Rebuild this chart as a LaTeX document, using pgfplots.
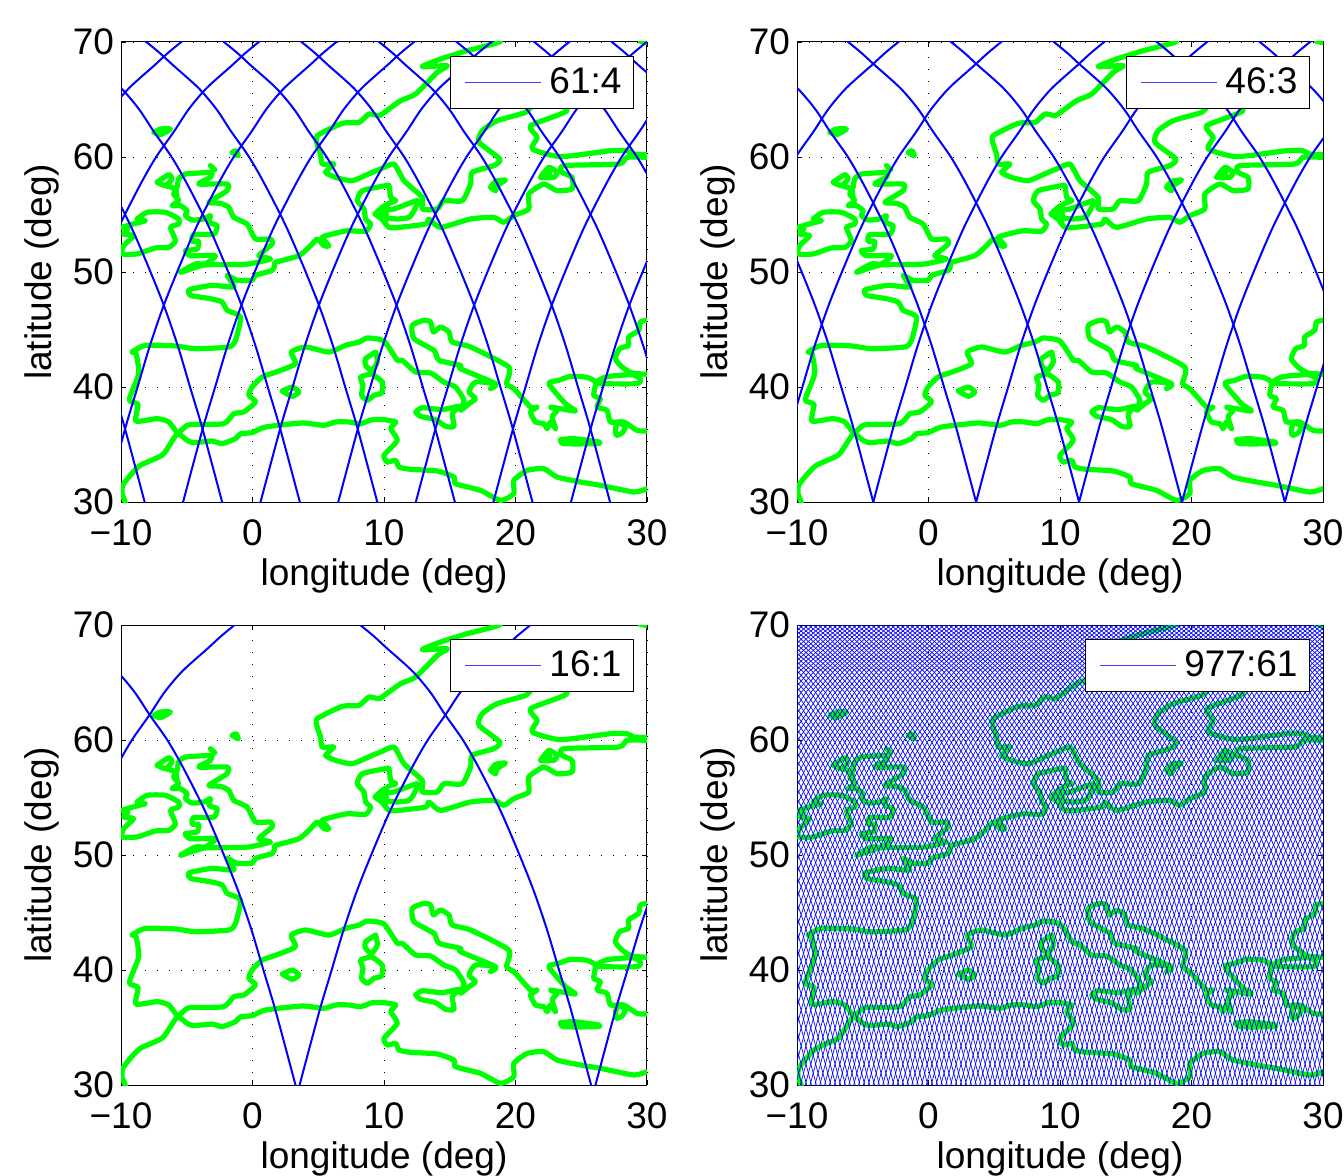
\documentclass[border=0pt]{standalone}
\usepackage{pgfplots}
\usepackage{pgfplotstable}
\usepackage{fontspec}
\setmainfont{Liberation Sans}
\pgfplotsset{compat=1.18}
\definecolor{coast}{rgb}{0,1,0}
\pgfplotstableread{
lon lat
-3.07 58.67
-5.10 58.52
-5.61 58.09
-5.74 57.36
-5.99 56.78
-5.61 56.20
-6.12 55.77
-5.48 55.77
-4.97 55.33
-5.10 54.90
-4.59 54.52
-3.71 54.61
-3.20 54.90
-3.32 54.32
-2.69 54.03
-2.94 53.30
-4.47 53.25
-4.59 52.67
-4.09 52.67
-4.21 52.00
-5.10 51.86
-4.72 51.42
-2.82 51.42
-3.58 50.70
-4.34 50.70
-5.48 49.97
-3.71 50.60
-1.80 50.64
-0.28 50.70
1.37 51.13
0.48 51.42
1.50 52.43
1.37 52.87
0.23 52.87
-0.41 54.17
-1.42 54.75
-1.80 55.62
-2.44 55.97
-3.32 56.06
-1.93 57.07
-1.93 57.65
-4.09 57.65
-3.20 58.23
-3.07 58.67
nan nan
-7.26 57.80
-6.37 58.46
-6.12 58.09
-6.62 57.51
-7.26 57.80
nan nan
-6.62 57.51
-5.86 57.22
-5.74 56.49
nan nan
-8.78 54.61
-8.02 55.19
-6.62 55.19
-5.61 54.61
-5.61 54.17
-6.24 53.88
-5.86 52.72
-6.37 52.14
-7.39 52.09
-8.78 51.57
-9.92 51.57
-9.80 52.29
-9.04 53.16
-9.80 53.30
-9.47 53.74
-9.92 53.88
-8.91 54.23
-8.15 54.46
-8.78 54.61
nan nan
-7.50 62.14
-7.00 61.94
-6.24 62.43
-7.00 62.43
-7.50 62.14
nan nan
-1.55 60.40
-1.24 60.55
-1.09 60.10
-1.55 60.40
nan nan
-3.20 59.25
-2.87 58.90
nan nan
-5.69 35.94
-6.37 36.96
-7.26 37.25
-8.86 37.04
-8.71 38.49
-9.37 38.90
-8.65 41.16
-8.86 42.90
-9.16 43.04
-8.15 43.62
-5.86 43.57
-4.34 43.33
-1.80 43.48
-1.29 44.06
-0.91 46.09
-1.93 46.67
-2.31 47.39
-3.20 47.68
-4.72 47.97
-4.80 48.46
-3.07 48.84
-1.42 48.70
-1.93 49.71
-1.17 49.28
-0.03 49.28
0.23 49.71
1.50 50.14
1.68 50.58
1.75 50.84
3.53 51.42
4.42 52.29
4.92 52.87
5.43 52.29
5.81 52.29
5.30 53.01
6.07 53.30
7.21 53.59
8.60 53.54
8.98 54.17
8.60 54.61
8.48 55.48
7.97 56.20
8.35 57.07
10.13 57.51
10.38 57.51
10.51 56.49
10.89 56.20
10.25 55.91
10.00 55.19
9.87 54.61
10.38 53.88
11.14 53.88
13.16 54.17
13.42 54.61
14.30 53.88
16.58 54.61
18.35 54.75
19.11 54.32
19.87 54.90
21.01 55.48
21.01 56.78
22.15 57.65
23.16 57.07
24.30 57.22
24.30 58.23
23.54 58.67
23.67 59.25
27.85 59.39
28.48 59.97
30.13 59.97
nan nan
30.13 60.20
28.99 60.26
28.48 60.55
27.22 60.55
23.42 60.03
21.27 60.70
21.65 61.71
21.14 62.72
23.92 64.03
22.40 65.19
21.39 64.61
20.76 63.88
18.61 63.16
17.47 62.29
17.22 61.28
18.81 59.83
18.35 59.25
16.71 58.67
16.58 57.65
15.95 56.20
14.56 56.20
14.05 55.48
12.91 55.48
12.91 56.49
11.52 57.94
10.76 59.39
9.75 58.96
9.11 58.67
7.59 57.94
6.32 58.23
5.56 58.67
6.19 59.39
5.30 59.39
5.18 60.26
4.92 61.13
4.92 61.86
6.83 62.93
8.10 63.01
8.86 63.74
9.62 63.59
10.13 63.97
11.27 64.90
12.41 65.48
14.05 67.36
14.81 67.94
12.91 67.86
14.30 68.52
16.33 69.25
16.84 69.39
18.48 69.88
18.86 70.06
nan nan
29.50 70.05
30.20 69.90
nan nan
9.75 55.33
10.76 55.48
12.53 56.20
12.28 55.33
11.90 54.75
11.01 54.61
10.13 54.75
9.75 55.33
nan nan
9.31 55.04
10.08 55.77
10.13 54.46
9.31 55.04
nan nan
18.10 57.36
18.48 57.88
19.24 58.00
18.61 57.51
18.48 57.07
18.10 57.36
nan nan
21.90 58.23
22.53 59.10
23.16 58.67
22.91 58.23
21.90 58.23
22.60 58.60
nan nan
-5.69 35.94
-4.97 36.67
-4.34 36.75
-2.18 36.81
-1.42 37.68
-0.66 37.83
0.23 38.70
-0.28 39.28
-0.03 40.00
0.74 40.87
2.01 41.39
3.27 42.03
2.94 43.04
4.04 43.48
5.81 43.04
7.08 43.62
8.10 43.91
8.73 44.26
10.00 44.00
11.01 42.32
11.39 42.32
12.41 41.30
13.54 41.22
14.56 40.43
15.44 40.00
16.08 38.84
15.82 37.97
16.46 38.55
16.96 38.99
16.46 39.57
16.96 40.43
18.48 40.29
18.10 39.86
18.48 40.29
15.82 41.59
15.82 41.88
14.18 42.32
13.80 43.19
12.28 44.20
12.15 45.36
13.04 45.80
13.54 45.65
13.75 44.78
14.30 45.22
14.94 44.78
15.19 43.91
16.58 43.48
19.49 41.74
19.32 40.29
19.87 39.86
21.14 38.26
21.65 38.26
21.14 37.83
21.52 36.96
22.15 36.81
22.41 36.38
22.66 36.96
23.04 36.38
22.78 37.39
23.16 37.97
22.66 38.26
24.56 37.91
23.80 38.55
22.53 40.29
23.29 40.58
24.18 40.93
25.44 40.84
26.08 40.41
25.95 39.28
26.46 38.99
26.20 38.26
26.96 37.97
27.22 36.96
28.23 36.96
29.24 36.23
30.00 36.17
nan nan
30.00 45.80
29.49 45.65
29.37 44.93
28.60 44.35
28.60 43.62
27.92 43.33
27.59 42.46
28.10 41.74
28.86 41.22
30.10 41.10
nan nan
26.08 40.41
26.96 40.90
28.86 41.07
29.49 40.72
29.24 40.29
26.46 40.29
26.08 40.41
nan nan
23.42 35.42
24.43 35.51
26.33 35.22
26.20 35.07
23.67 35.07
23.42 35.42
nan nan
27.85 36.96
28.35 36.52
28.10 36.00
27.67 35.80
27.60 36.40
27.85 36.96
nan nan
9.37 43.04
9.49 42.17
9.06 41.45
8.60 41.88
8.60 42.46
9.37 43.04
nan nan
9.06 41.16
8.22 40.87
8.40 40.14
8.30 39.28
8.73 38.84
9.24 39.28
9.82 39.48
9.87 40.43
9.06 41.16
nan nan
2.26 39.65
3.02 40.00
3.53 39.57
3.02 39.19
2.26 39.65
nan nan
12.41 37.83
12.91 38.20
14.43 38.03
15.70 38.32
15.19 37.68
15.32 36.58
14.68 36.58
13.92 37.16
12.78 37.45
12.41 37.83
nan nan
-9.67 30.00
-9.92 30.72
-9.87 31.45
-9.29 32.32
-8.53 33.19
-6.88 34.06
-6.24 35.07
-5.69 35.94
-4.97 35.36
-4.47 35.16
-3.07 35.30
-2.31 35.07
-1.29 35.51
-0.91 35.94
-0.03 36.03
0.99 36.52
3.78 36.87
5.43 36.67
6.32 36.96
7.34 36.96
8.22 36.81
9.11 37.16
10.00 37.16
10.89 36.96
10.51 36.38
11.01 35.36
10.00 34.06
10.25 33.48
10.89 33.62
11.14 33.04
12.03 32.84
14.05 32.70
15.32 32.17
15.44 31.59
17.34 31.01
18.86 30.14
19.87 30.72
19.87 31.88
20.89 32.75
22.15 32.90
23.16 32.17
24.94 31.74
26.46 31.45
29.00 30.87
30.00 31.16
}\coastdata
\pgfplotstableread{
d lat
-0.25 29
0.00 30
0.70 33
1.60 36.8
2.44 40
3.37 43.57
4.40 47
5.60 50.43
6.95 54
8.57 57.65
9.75 60
11.10 62.2
12.24 64.17
13.60 66
15.55 68
16.50 69
17.56 70
18.70 71
}\trackshape
\pgfplotsset{
  panel/.style={
    scale only axis,width=263pt,height=230pt,
    xmin=-10,xmax=30,ymin=30,ymax=70,
    xtick={-10,0,10,20,30},xticklabels={−10,0,10,20,30},
    ytick={30,40,50,60,70},yticklabels={30,40,50,60,70},
    tick align=inside,major tick length=2.5pt,
    tick style={black,line width=0.4pt},
    axis line style={black,line width=0.5pt},
    xmajorgrids,ymajorgrids,
    grid style={black,line width=0.4pt,dash pattern=on 0.6pt off 5.4pt},
    xlabel={longitude (deg)},ylabel={latitude (deg)},
    xticklabel shift=5.5pt,
    xlabel style={yshift=0.5pt},ylabel style={yshift=0pt},
    tick label style={font=\fontsize{18.5}{21}\selectfont},
    label style={font=\fontsize{18.5}{21}\selectfont},
    unbounded coords=jump,
    legend style={at={(0.9753,0.9696)},anchor=north east,draw=black,fill=white,line width=0.5pt,
      font=\fontsize{18.5}{21}\selectfont,inner xsep=4pt,inner ysep=3.7pt},
    legend image code/.code={\path(0pt,0pt)(43pt,0pt);\draw[#1](3pt,0pt)--(41pt,0pt);},
  },
  cl/.style={coast,line width=2.6pt,line join=round,line cap=round,mark=none,forget plot,smooth,tension=0.35},
  tr/.style={blue,line width=1pt,mark=none,forget plot,smooth,tension=0.5},
  trd/.style={blue,line width=0.34pt,mark=none,forget plot},
  lg/.style={blue!75,line width=0.4pt},
}
\newcommand{\coastline}{\addplot[cl] table[x=lon,y=lat]{\coastdata};}
\newcommand{\asc}[2][tr]{\pgfplotsinvokeforeach{#2}{\addplot[#1] table[x expr=\thisrow{d}+##1,y=lat]{\trackshape};}}
\newcommand{\desc}[2][tr]{\pgfplotsinvokeforeach{#2}{\addplot[#1] table[x expr=##1-\thisrow{d},y=lat]{\trackshape};}}
\begin{document}
\begin{tikzpicture}[x=1pt,y=1pt]
\path[use as bounding box] (0,0) rectangle (672,587.5);
\begin{axis}[panel,at={(60.5pt,336.5pt)},anchor=south west]
\coastline
\asc{-28.88,-22.98,-17.08,-11.18,-5.28,0.61,6.52,12.42,18.32,24.22,30.10}
\desc{-8.20,-2.31,3.60,9.49,15.39,21.29,27.19,33.09,38.99,44.89,50.79}
\addlegendimage{lg}\addlegendentry{61:4}
\end{axis}
\begin{axis}[panel,at={(398.5pt,336.5pt)},anchor=south west]
\coastline
\asc{-27.68,-19.85,-12.03,-4.20,3.62,11.45,19.28,27.10}
\desc{-4.20,3.62,11.45,19.28,27.10,34.92,42.75,50.58}
\addlegendimage{lg}\addlegendentry{46:3}
\end{axis}
\begin{axis}[panel,at={(60.5pt,45pt)},anchor=south west]
\coastline
\asc{-18.92,3.58,26.08}
\desc{3.27,25.75,48.25}
\addlegendimage{lg}\addlegendentry{16:1}
\end{axis}
\begin{axis}[panel,at={(398.5pt,45pt)},anchor=south west]
\coastline
\pgfplotsforeachungrouped \k in {0,...,157}{%
  \addplot[trd] table[x expr=\thisrow{d}-27.8+\k*0.3685,y=lat]{\trackshape};
  \addplot[trd] table[x expr=-10+\k*0.3685-\thisrow{d},y=lat]{\trackshape};
}
\addlegendimage{lg}\addlegendentry{977:61}
\end{axis}
\end{tikzpicture}
\end{document}
